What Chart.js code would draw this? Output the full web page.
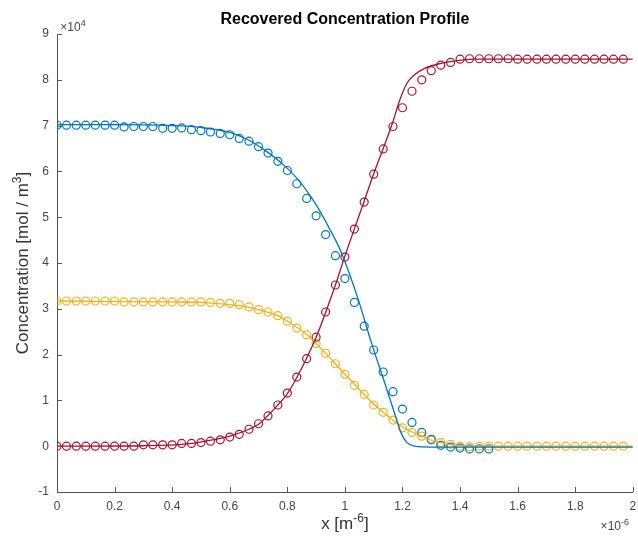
<!DOCTYPE html>
<html>
<head>
<meta charset="utf-8">
<script src="https://cdn.jsdelivr.net/npm/chart.js@4.4.1/dist/chart.umd.min.js"></script>
<style>
  html, body { margin: 0; padding: 0; background: #fff; }
  canvas { display: block; }
</style>
</head>
<body>
<canvas id="profile" width="638" height="537"></canvas>
<script>
// x in units of 1e-6 m, concentrations in units of 1e4 mol/m^3 (matches axis multipliers)

// --- marker positions (samples) ---
const markerX = [
  0, 0.033, 0.067, 0.1, 0.133, 0.167, 0.2, 0.233, 0.267, 0.3,
  0.333, 0.367, 0.4, 0.433, 0.467, 0.5, 0.533, 0.567, 0.6, 0.633,
  0.667, 0.7, 0.733, 0.767, 0.8, 0.833, 0.867, 0.9, 0.933, 0.967,
  1.0, 1.033, 1.067, 1.1, 1.133, 1.167, 1.2, 1.233, 1.267, 1.3,
  1.333, 1.367, 1.4, 1.433, 1.467, 1.5, 1.533, 1.567, 1.6, 1.633,
  1.667, 1.7, 1.733, 1.767, 1.8, 1.833, 1.867, 1.9, 1.933, 1.967
];

// blue samples stop at x = 1.5
const blueMarkers = [
  7.01, 7.01, 7.01, 7.01, 7.01, 7.01, 7.01, 6.97, 6.98, 6.98,
  6.98, 6.94, 6.94, 6.95, 6.91, 6.89, 6.86, 6.83, 6.80, 6.72,
  6.66, 6.54, 6.40, 6.22, 6.02, 5.73, 5.41, 5.03, 4.62, 4.16,
  3.66, 3.14, 2.62, 2.10, 1.62, 1.19, 0.81, 0.52, 0.30, 0.15,
  0.02, -0.02, -0.04, -0.06, -0.06, -0.06
];

const redMarkers = [
  0, 0, 0, 0, 0, 0, 0, 0, 0, 0.03,
  0.03, 0.03, 0.03, 0.06, 0.06, 0.08, 0.11, 0.14, 0.20, 0.26,
  0.37, 0.49, 0.66, 0.90, 1.16, 1.51, 1.91, 2.38, 2.93, 3.52,
  4.13, 4.74, 5.33, 5.94, 6.49, 6.98, 7.39, 7.75, 8.00, 8.20,
  8.32, 8.38, 8.45, 8.46, 8.46, 8.46, 8.46, 8.46, 8.45, 8.45,
  8.45, 8.45, 8.45, 8.45, 8.45, 8.45, 8.45, 8.45, 8.45, 8.45
];

const yellowMarkers = [
  3.17, 3.17, 3.17, 3.17, 3.17, 3.17, 3.17, 3.15, 3.15, 3.15,
  3.15, 3.15, 3.15, 3.15, 3.15, 3.15, 3.14, 3.12, 3.12, 3.09,
  3.04, 2.98, 2.93, 2.85, 2.73, 2.58, 2.43, 2.24, 2.03, 1.80,
  1.57, 1.33, 1.13, 0.90, 0.74, 0.57, 0.40, 0.30, 0.22, 0.13,
  0.08, 0.04, 0.0, -0.01, 0, 0, 0, 0, 0, 0,
  0, 0, 0, 0, 0, 0, 0, 0, 0, 0
];

// --- solid model curves ---
const blueLineX = [0, 0.2, 0.4, 0.5, 0.6, 0.667, 0.72, 0.782, 0.839, 0.897, 0.943, 0.989, 1.047, 1.093, 1.139, 1.173, 1.196, 1.214, 1.242, 1.3, 2.0];
const blueLine  = [7.02, 7.02, 7.0, 6.96, 6.85, 6.68, 6.47, 6.17, 5.81, 5.30, 4.79, 4.21, 3.19, 2.24, 1.37, 0.71, 0.28, 0.09, 0.0, -0.02, -0.02];

const redLineX = [0, 0.3, 0.45, 0.55, 0.6, 0.667, 0.7, 0.767, 0.8, 0.833, 0.9, 0.967, 1.0, 1.033, 1.067, 1.1, 1.133, 1.165, 1.19, 1.215, 1.24, 1.277, 1.334, 1.38, 1.45, 2.0];
const redLine  = [0, 0.01, 0.05, 0.15, 0.22, 0.37, 0.48, 0.9, 1.15, 1.5, 2.38, 3.52, 4.15, 4.75, 5.35, 5.95, 6.5, 7.05, 7.55, 7.92, 8.1, 8.25, 8.36, 8.41, 8.45, 8.45];

const yellowLineX = [0, 0.4, 0.5, 0.6, 0.667, 0.7, 0.767, 0.8, 0.867, 0.9, 0.967, 1.0, 1.067, 1.1, 1.167, 1.2, 1.267, 1.3, 1.367, 1.433, 2.0];
const yellowLine  = [3.17, 3.15, 3.14, 3.09, 3.03, 2.98, 2.85, 2.73, 2.44, 2.24, 1.80, 1.57, 1.13, 0.92, 0.57, 0.42, 0.22, 0.13, 0.03, 0.0, 0.0];

// --- axis ticks ---
const xTicks = [0, 0.2, 0.4, 0.6, 0.8, 1, 1.2, 1.4, 1.6, 1.8, 2];
const yTicks = [-1, 0, 1, 2, 3, 4, 5, 6, 7, 8, 9];

const BLUE = "#0072BD";
const RED = "#A2142F";
const YELLOW = "#EDB120";
const FONT = "'Liberation Sans', Arial, Helvetica, sans-serif";

function pts(xs, ys) {
  return ys.map((y, i) => ({ x: xs[i], y }));
}

function lineSet(xs, ys, color) {
  return {
    data: pts(xs, ys),
    showLine: true,
    borderColor: color,
    borderWidth: 1.3,
    pointRadius: 0,
    cubicInterpolationMode: "monotone",
    fill: false
  };
}

function markerSet(ys, color) {
  return {
    data: pts(markerX, ys),
    showLine: false,
    pointStyle: "circle",
    pointRadius: 4,
    pointBorderWidth: 1.2,
    pointBorderColor: color,
    pointBackgroundColor: "rgba(0,0,0,0)"
  };
}

// draw text made of normal/superscript pieces, centred on (x, y)
function drawRich(ctx, parts, x, y, size, color, weight) {
  const supSize = Math.round(size * 0.72);
  let total = 0;
  parts.forEach(p => {
    ctx.font = (weight || "") + " " + (p.sup ? supSize : size) + "px " + FONT;
    p.w = ctx.measureText(p.t).width;
    total += p.w;
  });
  let cx = x - total / 2;
  ctx.fillStyle = color;
  ctx.textAlign = "left";
  ctx.textBaseline = "alphabetic";
  parts.forEach(p => {
    ctx.font = (weight || "") + " " + (p.sup ? supSize : size) + "px " + FONT;
    ctx.fillText(p.t, cx, p.sup ? y - size * 0.42 : y);
    cx += p.w;
  });
}

// matlab-ish decorations: inward ticks, title, axis labels, exponent markers
const decorations = {
  id: "decorations",
  afterDraw(chart) {
    const ctx = chart.ctx;
    const area = chart.chartArea;
    const xs = chart.scales.x, ys = chart.scales.y;
    ctx.save();
    ctx.strokeStyle = "#555";
    ctx.lineWidth = 1;
    ctx.beginPath();
    xTicks.forEach(v => {
      const px = Math.round(xs.getPixelForValue(v)) + 0.5;
      ctx.moveTo(px, area.bottom);
      ctx.lineTo(px, area.bottom - 5);
    });
    yTicks.forEach(v => {
      const py = Math.round(ys.getPixelForValue(v)) + 0.5;
      ctx.moveTo(area.left, py);
      ctx.lineTo(area.left + 5, py);
    });
    ctx.stroke();

    const midX = (area.left + area.right) / 2;
    const midY = (area.top + area.bottom) / 2;

    drawRich(ctx, [{ t: "Recovered Concentration Profile" }], midX, 24, 16, "#000", "bold");
    drawRich(ctx, [{ t: "x [m" }, { t: "-6", sup: true }, { t: "]" }], midX, area.bottom + 37, 17, "#333");

    ctx.save();
    ctx.translate(28, midY);
    ctx.rotate(-Math.PI / 2);
    drawRich(ctx, [{ t: "Concentration [mol / m" }, { t: "3", sup: true }, { t: "]" }], 0, 0, 17, "#333");
    ctx.restore();

    drawRich(ctx, [{ t: "\u00d710" }, { t: "4", sup: true }], area.left + 16, area.top - 3, 12, "#444");
    drawRich(ctx, [{ t: "\u00d710" }, { t: "-6", sup: true }], area.right - 18, area.bottom + 38, 12, "#444");
    ctx.restore();
  }
};

new Chart(document.getElementById("profile"), {
  type: "scatter",
  data: {
    datasets: [
      lineSet(blueLineX, blueLine, BLUE),
      lineSet(redLineX, redLine, RED),
      lineSet(yellowLineX, yellowLine, YELLOW),
      markerSet(blueMarkers, BLUE),
      markerSet(redMarkers, RED),
      markerSet(yellowMarkers, YELLOW)
    ]
  },
  options: {
    responsive: false,
    animation: false,
    devicePixelRatio: 1,
    layout: { padding: { top: 34, right: 2, left: 0, bottom: 0 } },
    plugins: { legend: { display: false }, tooltip: { enabled: false } },
    scales: {
      x: {
        type: "linear",
        min: 0,
        max: 2,
        afterBuildTicks: s => { s.ticks = xTicks.map(v => ({ value: v })); },
        afterFit: s => { s.height = 45; s.paddingLeft = 0; s.paddingRight = 0; },
        grid: { display: false, drawTicks: false },
        border: { display: true, color: "#555", width: 1 },
        ticks: {
          padding: 7,
          color: "#444",
          maxRotation: 0,
          font: { family: FONT, size: 12 },
          callback: v => String(Math.round(v * 10) / 10)
        }
      },
      y: {
        type: "linear",
        min: -1,
        max: 9,
        afterBuildTicks: s => { s.ticks = yTicks.map(v => ({ value: v })); },
        afterFit: s => { s.width = 57; s.paddingTop = 0; s.paddingBottom = 0; },
        grid: { display: false, drawTicks: false },
        border: { display: true, color: "#555", width: 1 },
        ticks: {
          padding: 8,
          color: "#444",
          font: { family: FONT, size: 12 },
          callback: v => String(v)
        }
      }
    }
  },
  plugins: [decorations]
});
</script>
</body>
</html>
